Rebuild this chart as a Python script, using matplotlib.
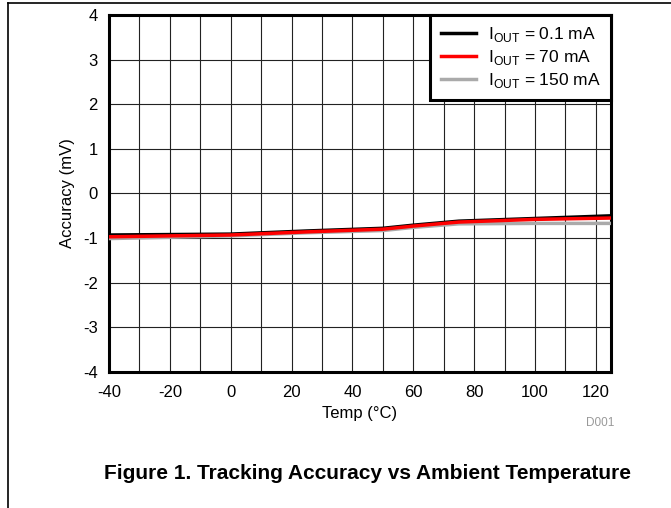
import numpy as np
import matplotlib
matplotlib.use('Agg')
import matplotlib.pyplot as plt
from matplotlib.lines import Line2D

plt.rcParams['font.family'] = ['Liberation Sans', 'DejaVu Sans']
plt.rcParams['axes.unicode_minus'] = False

# data
temp = [-40, -20, 0, 25, 50, 60, 75, 100, 125]
acc_01mA = [-0.93, -0.92, -0.91, -0.84, -0.78, -0.71, -0.62, -0.56, -0.50]
acc_70mA = [-0.97, -0.95, -0.93, -0.86, -0.80, -0.73, -0.64, -0.58, -0.55]
acc_150mA = [-1.01, -0.98, -0.95, -0.88, -0.83, -0.76, -0.68, -0.67, -0.67]
labels = ['I$_\\mathregular{OUT}$ = 0.1 mA', 'I$_\\mathregular{OUT}$ = 70 mA',
          'I$_\\mathregular{OUT}$ = 150 mA']
x_ticks = list(range(-40, 121, 20))
y_ticks = list(range(-4, 5))

fig = plt.figure(figsize=(6.71, 5.08), dpi=100)
ax = fig.add_axes([0.1624, 0.2677, 0.7482, 0.7028])

ax.plot(temp, acc_150mA, color='#aaaaaa', lw=2.5, label=labels[2], zorder=3)
ax.plot(temp, acc_70mA, color='#ff0000', lw=2.5, label=labels[1], zorder=4)
ax.plot(temp, acc_01mA, color='black', lw=2.5, label=labels[0], zorder=3.5)

ax.set_xlim(-40, 125)
ax.set_ylim(-4, 4)
ax.set_xticks(x_ticks)
ax.set_yticks(y_ticks)
ax.set_xticks(np.arange(-30, 125, 10), minor=True)
ax.tick_params(which='both', length=0, labelsize=12)
ax.tick_params(axis='x', pad=9)
ax.tick_params(axis='y', pad=8)
ax.grid(which='both', color='#222222', lw=0.8)
ax.set_axisbelow(True)
for s in ax.spines.values():
    s.set_linewidth(2.2)

ax.set_xlabel('Temp (°C)', fontsize=12, labelpad=5)
ax.set_ylabel('Accuracy (mV)', fontsize=12, labelpad=6)

h, l = ax.get_legend_handles_labels()
order = [2, 1, 0]
leg = ax.legend([h[i] for i in order], [l[i] for i in order], loc='upper right',
                fontsize=12.5, fancybox=False, framealpha=1, borderaxespad=0,
                handlelength=2.0, labelspacing=0.22, borderpad=0.6,
                handletextpad=0.7)
leg.get_frame().set_edgecolor('black')
leg.get_frame().set_linewidth(2.2)

fig.text(0.894, 0.162, 'D001', color='#999999', fontsize=8.5, ha='center')
fig.text(0.548, 0.058, 'Figure 1. Tracking Accuracy vs Ambient Temperature',
         fontsize=15, fontweight='bold', ha='center')

# page border lines (top and left)
fig.add_artist(Line2D([0.012, 1], [0.994, 0.994], color='black', lw=1.2))
fig.add_artist(Line2D([0.012, 0.012], [0, 0.994], color='black', lw=1.2))

fig.savefig('out.png', dpi=100)
